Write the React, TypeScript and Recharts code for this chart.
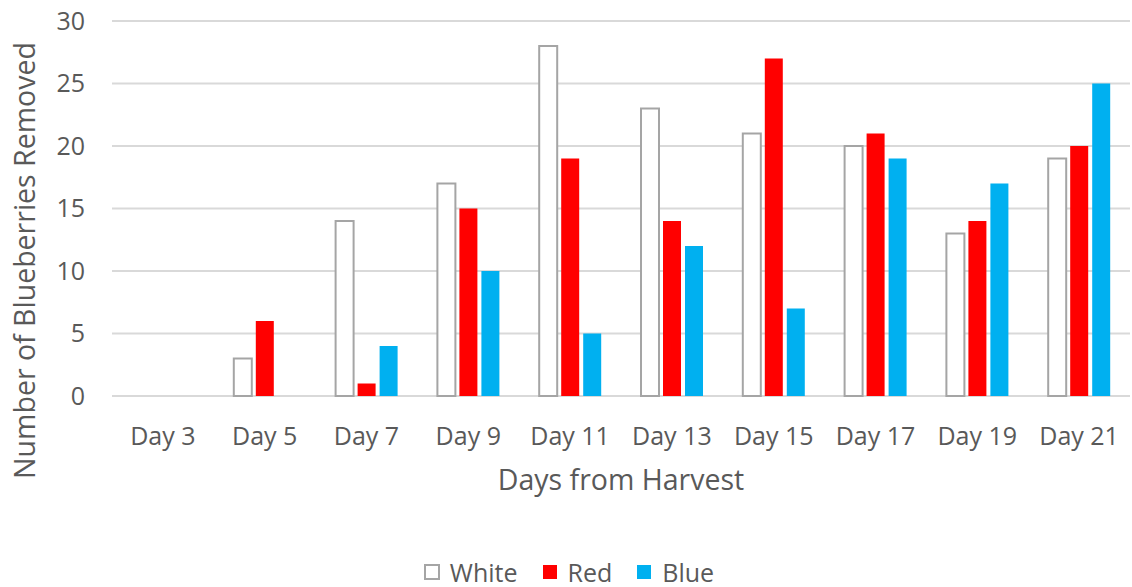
import { BarChart, Bar, XAxis, YAxis, CartesianGrid, Legend, Label } from "recharts";

const days = ["Day 3", "Day 5", "Day 7", "Day 9", "Day 11", "Day 13", "Day 15", "Day 17", "Day 19", "Day 21"];
const white = [0, 3, 14, 17, 28, 23, 21, 20, 13, 19];
const red = [0, 6, 1, 15, 19, 14, 27, 21, 14, 20];
const blue = [0, 0, 4, 10, 5, 12, 7, 19, 17, 25];
const yTicks = [0, 5, 10, 15, 20, 25, 30];

const data = days.map((day, i) => ({ day, White: white[i], Red: red[i], Blue: blue[i] }));

const FONT = "'Open Sans', sans-serif";
const TEXT = "#595959";

const legendItems = [
    { name: "White", fill: "#ffffff", stroke: "#a5a5a5" },
    { name: "Red", fill: "#ff0000", stroke: "none" },
    { name: "Blue", fill: "#00b0f0", stroke: "none" },
];

const BlueberryLegend = () => (
    <div style={{ display: "flex", justifyContent: "center", alignItems: "center", fontFamily: FONT, fontSize: 25, color: TEXT, paddingLeft: 6 }}>
        {legendItems.map((item, i) => (
            <div key={item.name} style={{ display: "flex", alignItems: "center", marginLeft: i === 0 ? 0 : 24 }}>
                <svg width={16} height={16} style={{ marginRight: 10 }}>
                    <rect
                        x={1}
                        y={1}
                        width={14}
                        height={14}
                        fill={item.fill}
                        stroke={item.stroke}
                        strokeWidth={2}
                    />
                </svg>
                <span>{item.name}</span>
            </div>
        ))}
    </div>
);

const YTitle = ({ viewBox }: any) => (
    <text
        x={35}
        y={viewBox.y + viewBox.height / 2 + 52}
        transform={`rotate(-90, 35, ${viewBox.y + viewBox.height / 2 + 52})`}
        textAnchor="middle"
        fontFamily={FONT}
        fontSize={28.5}
        fill={TEXT}
    >
        Number of Blueberries Removed
    </text>
);

const App = () => {
    return (
        <div style={{ position: "absolute", left: 0, top: 0, width: 1132, height: 587, background: "#fff" }}>
            <BarChart
                width={1132}
                height={587}
                data={data}
                margin={{ top: 21, right: 2, left: 0, bottom: 55 }}
                barSize={18}
                barGap={4}
            >
                <CartesianGrid vertical={false} stroke="#d9d9d9" strokeWidth={2} />
                <XAxis
                    dataKey="day"
                    axisLine={false}
                    tickLine={false}
                    tickSize={0}
                    tickMargin={31}
                    height={100}
                    interval={0}
                    tick={{ fontSize: 25, fill: TEXT, fontFamily: FONT }}
                >
                    <Label
                        value="Days from Harvest"
                        position="insideBottom"
                        offset={6}
                        style={{ fontSize: 28.5, fill: TEXT, fontFamily: FONT }}
                    />
                </XAxis>
                <YAxis
                    domain={[0, 30]}
                    ticks={yTicks}
                    axisLine={false}
                    tickLine={false}
                    tickSize={0}
                    tickMargin={27}
                    width={112}
                    tick={{ fontSize: 25, fill: TEXT, fontFamily: FONT }}
                >
                    <Label content={<YTitle />} />
                </YAxis>
                <Legend
                    content={<BlueberryLegend />}
                    wrapperStyle={{ top: 555, left: 0, width: 1132, height: 36 }}
                />
                <Bar dataKey="White" fill="#ffffff" stroke="#a5a5a5" strokeWidth={2} isAnimationActive={false} />
                <Bar dataKey="Red" fill="#ff0000" isAnimationActive={false} />
                <Bar dataKey="Blue" fill="#00b0f0" isAnimationActive={false} />
            </BarChart>
        </div>
    );
};

export default App;
